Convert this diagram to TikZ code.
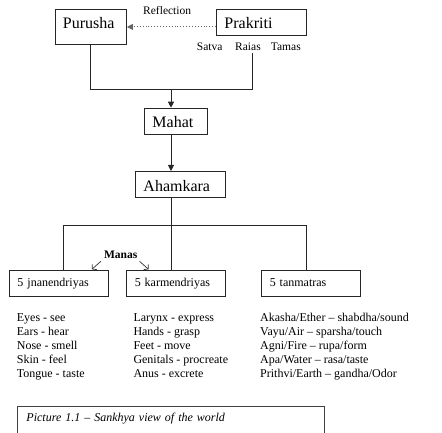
\documentclass[tikz,border=0pt]{standalone}
\usepackage{fontspec}
\setmainfont{Liberation Serif}
\usetikzlibrary{arrows.meta}
\begin{document}
\begin{tikzpicture}[x=1pt,y=-1pt,
  box/.style={draw=black!85, line width=0.9pt, anchor=north west, inner xsep=8pt, inner ysep=0pt, align=left},
  bigbox/.style={box, font=\fontsize{16}{19}\selectfont},
  smallbox/.style={box, font=\fontsize{12}{14}\selectfont, text height=16pt, text depth=10.3pt},
  lbl/.style={inner sep=0pt, anchor=base west, font=\fontsize{11.5}{13}\selectfont},
  item/.style={inner sep=0pt, anchor=base west, font=\fontsize{12}{14}\selectfont},
  conn/.style={draw=black!85, line width=0.9pt},
  arr/.style={conn, -{Triangle[length=6pt,width=6pt]}},
  manasarr/.style={draw=black!80, line width=0.7pt, -{Straight Barb[length=3pt,width=7pt]}}
]
\useasboundingbox (0,0) rectangle (442,433);

% top boxes
\node[bigbox, text width=55.5pt, text height=19.6pt, text depth=16pt] (pur) at (54.5,8.7) {Purusha};
\node[bigbox, text width=74pt, text height=19.6pt, text depth=7pt] (prak) at (216,8.7) {Prakriti};
\node[lbl] (refl) at (143,14.7) {Reflection};
\draw[draw=black!60, line width=0.9pt, dotted, -{Triangle[length=6pt,width=6pt]}] (prak.west |- pur.east) -- (pur.east);

\node[lbl] (satva) at (196.7,50.3) {Satva};
\node[lbl] (raias) at (235,50.3) {Raias};
\node[lbl] (tamas) at (270.7,50.3) {Tamas};

% Mahat and Ahamkara
\node[bigbox, text width=46.7pt, text height=19.6pt, text depth=7pt] (mahat) at (144,107.7) {Mahat};
\node[bigbox, text width=73.7pt, text height=20.3pt, text depth=6pt] (aham) at (135,171) {Ahamkara};

\coordinate (j1) at (171,89.7);
\coordinate (rj) at (252,53.3);
\draw[conn] (pur.south) |- (j1) -| (rj);
\draw[arr] (j1) -- (j1 |- mahat.north);
\draw[arr] (mahat.south -| j1) -- (aham.north -| j1);

% lower boxes
\node[smallbox, text width=82.7pt] (jn) at (9,270) {5 jnanendriyas};
\node[smallbox, text width=82.4pt] (karm) at (126.3,270) {5 karmendriyas};
\node[smallbox, text width=82.7pt] (tan) at (261.3,270) {5 tanmatras};

\coordinate (j2) at (171,225.7);
\coordinate (b1) at (63.3,225.7);
\coordinate (b3) at (306.3,225.7);
\draw[conn] (aham.south -| j2) -- (j2 |- karm.north);
\draw[conn] (b1 |- jn.north) -- (b1) -- (b3) -- (b3 |- tan.north);

% Manas
\node[lbl, anchor=base, font=\bfseries\fontsize{11.5}{13}\selectfont] (manas) at (120.7,258) {Manas};
\draw[manasarr] ([shift={(-3,3)}]manas.south west) -- ([shift={(-12,11)}]manas.south west);
\draw[manasarr] ([shift={(2,3)}]manas.south east) -- ([shift={(11,11)}]manas.south east);

% lists
\foreach \t [count=\i] in {Eyes - see, Ears - hear, Nose - smell, Skin - feel, Tongue - taste}
  \node[item] (a\i) at (16.7,{307.6+13.9*\i}) {\t};
\foreach \t [count=\i] in {Larynx - express, Hands - grasp, Feet - move, Genitals - procreate, Anus - excrete}
  \node[item] (b\i) at (133.3,{307.6+13.9*\i}) {\t};
\foreach \t [count=\i] in {Akasha/Ether – shabdha/sound, Vayu/Air – sparsha/touch, Agni/Fire – rupa/form, Apa/Water – rasa/taste, Prithvi/Earth – gandha/Odor}
  \node[item] (c\i) at (260,{307.6+13.9*\i}) {\t};

% caption
\node[draw=black!75, line width=0.9pt, anchor=north west, inner xsep=8.7pt, inner ysep=0pt, align=left,
  text width=289.6pt, text height=15.3pt, text depth=20pt, font=\itshape\fontsize{12}{14}\selectfont]
  (cap) at (17.3,405.7) {Picture 1.1 – Sankhya view of the world};
\end{tikzpicture}
\end{document}
